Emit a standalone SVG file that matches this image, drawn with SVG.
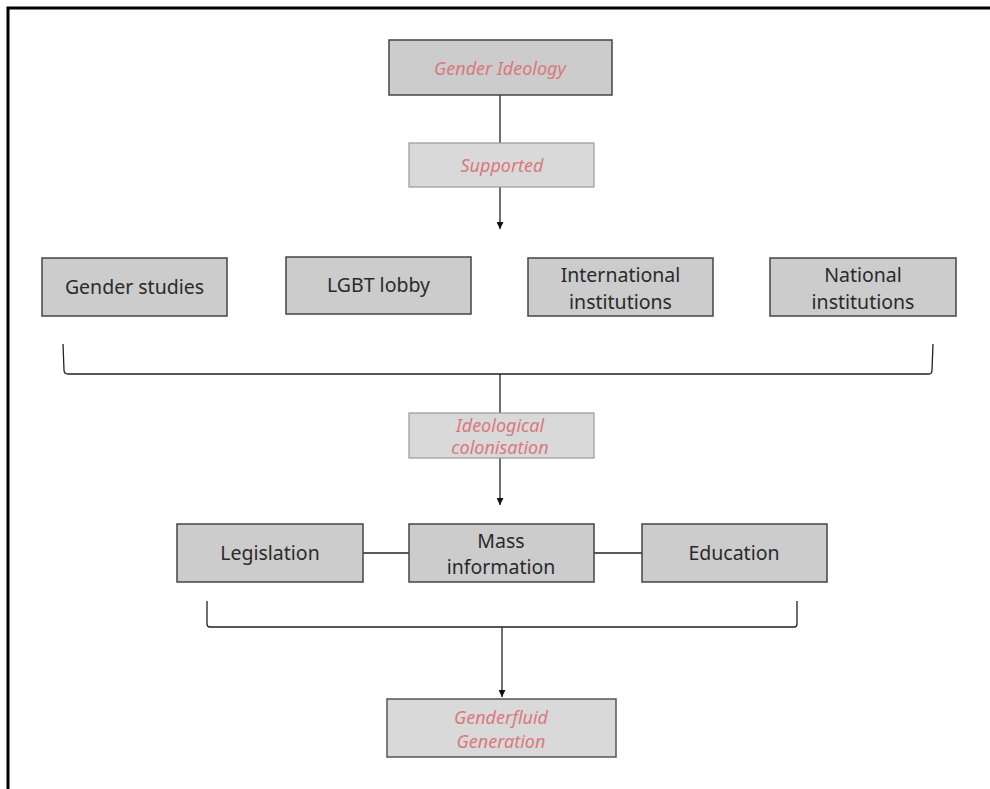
<svg xmlns="http://www.w3.org/2000/svg" width="990" height="789" viewBox="0 0 990 789">
<defs>
<marker id="arr" viewBox="0 0 10 10" refX="10" refY="5" markerWidth="7" markerHeight="7" markerUnits="userSpaceOnUse" orient="auto">
<path d="M0,0 L10,5 L0,10 z" fill="#111"/>
</marker>
<style>
.box{fill:#cccccc;stroke:#444;stroke-width:1.5}
.lbl{fill:#d9d9d9;stroke:#999;stroke-width:1.2}
.t{font-family:"Noto Sans","Open Sans",sans-serif;font-size:19.5px;fill:#2a2a2a;text-anchor:middle}
.r{font-family:"Noto Sans","Open Sans",sans-serif;font-size:18px;font-style:italic;fill:#d9787e;text-anchor:middle}
.c{fill:none;stroke:#222;stroke-width:1.3}
</style>
</defs>
<rect width="990" height="789" fill="#fff"/>
<path d="M8,789 V8 H990" fill="none" stroke="#000" stroke-width="3"/>

<g id="connectors">
<line class="c" x1="500" y1="95" x2="500" y2="143"/>
<line class="c" x1="500" y1="187" x2="500" y2="229" marker-end="url(#arr)"/>
<path class="c" d="M63,344 L64,370 Q64,374 68,374 L929,374 Q932,374 932,370 L933,344"/>
<line class="c" x1="500" y1="374" x2="500" y2="413"/>
<line class="c" x1="500" y1="458" x2="500" y2="505" marker-end="url(#arr)"/>
<line class="c" x1="363" y1="553" x2="409" y2="553"/>
<line class="c" x1="594" y1="553" x2="642" y2="553"/>
<path class="c" d="M207,601 L207,624 Q207,627 210,627 L794,627 Q797,627 797,624 L797,601"/>
<line class="c" x1="502" y1="627" x2="502" y2="697" marker-end="url(#arr)"/>
</g>

<g id="gender-ideology">
<rect class="box" x="389" y="40" width="223" height="55"/>
<text class="r" x="500" y="75" font-size="21">Gender Ideology</text>
</g>
<g id="supported">
<rect class="lbl" x="409" y="143" width="185" height="44"/>
<text class="r" x="502" y="172" font-size="19">Supported</text>
</g>
<g id="gender-studies">
<rect class="box" x="42" y="258" width="185" height="58"/>
<text class="t" x="134.5" y="294">Gender studies</text>
</g>
<g id="lgbt-lobby">
<rect class="box" x="286" y="257" width="185" height="57"/>
<text class="t" x="378.5" y="292">LGBT lobby</text>
</g>
<g id="international-institutions">
<rect class="box" x="528" y="258" width="185" height="58"/>
<text class="t" x="620.5" y="282">International</text>
<text class="t" x="620.5" y="309">institutions</text>
</g>
<g id="national-institutions">
<rect class="box" x="770" y="258" width="186" height="58"/>
<text class="t" x="863" y="282">National</text>
<text class="t" x="863" y="309">institutions</text>
</g>
<g id="ideological-colonisation">
<rect class="lbl" x="409" y="413" width="185" height="45"/>
<text class="r" x="500" y="432">Ideological</text>
<text class="r" x="500" y="454">colonisation</text>
</g>
<g id="legislation">
<rect class="box" x="177" y="524" width="186" height="58"/>
<text class="t" x="270" y="560">Legislation</text>
</g>
<g id="mass-information">
<rect class="box" x="409" y="524" width="185" height="58"/>
<text class="t" x="501" y="548">Mass</text>
<text class="t" x="501" y="574">information</text>
</g>
<g id="education">
<rect class="box" x="642" y="524" width="185" height="58"/>
<text class="t" x="734" y="560">Education</text>
</g>
<g id="genderfluid-generation">
<rect class="lbl" x="387" y="699" width="229" height="58" style="stroke:#555;stroke-width:1.5"/>
<text class="r" x="501" y="724" font-size="21">Genderfluid</text>
<text class="r" x="501" y="748" font-size="21">Generation</text>
</g>
</svg>
